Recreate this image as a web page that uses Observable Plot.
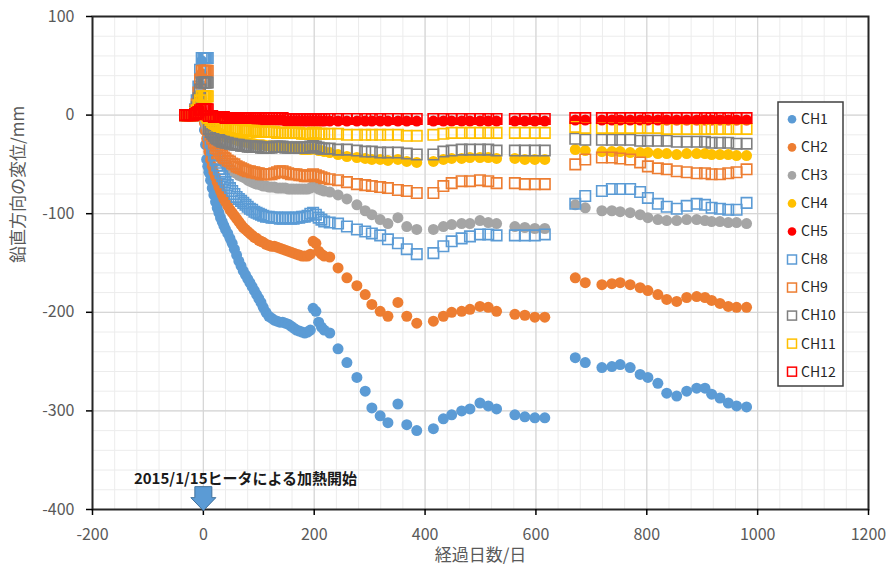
<!DOCTYPE html>
<html><head><meta charset="utf-8">
<script src="https://cdn.jsdelivr.net/npm/d3@7"></script>
<script src="https://cdn.jsdelivr.net/npm/@observablehq/plot@0.6"></script>
<style>
body{margin:0;background:#fff;}
#chart{width:890px;height:575px;}
</style></head><body><div id="chart"></div>
<script>
// ---- DATA ----
const days = [-33,-30,-27,-24,-21,-18,-15,-12,-9,-6,-3,0,
 2,4,6,8,10,
 13,16,19,22,25,28,31,34,37,40,
 44,48,52,56,60,64,68,72,76,80,
 84,88,92,96,100,104,
 108,113,118,123,128,133,138,143,148,153,158,163,168,173,178,183,188,193,198,203,208,213,218,
 228,243,259,277,292,304,319,333,351,367,385,
 415,433,448,466,481,499,514,529,
 562,580,598,616,
 671,689,719,737,752,770,788,802,820,836,854,872,890,905,917,932,947,962,980];

const ch1 = [0,0,0,0,0,0,0,0,10,40,55,0,
 -15,-30,-45,-52,-58,
 -66,-74,-81,-88,-94,-99,-104,-108,-112,-116,
 -120,-125,-130,-136,-142,-148,-153,-158,-162,-166,
 -170,-174,-178,-182,-186,-190,
 -195,-200,-204,-206,-208,-209,-210,-210,-211,-212,-214,-216,-218,-219,-220,-221,-220,-218,-196,-199,-210,-215,-218,
 -221,-237,-251,-266,-280,-297,-305,-312,-293,-314,-320,
 -318,-308,-304,-300,-298,-292,-295,-298,
 -304,-306,-307,-307,
 -246,-251,-256,-255,-253,-256,-263,-266,-272,-282,-285,-280,-277,-277,-283,-287,-292,-295,-296];

const ch2 = [0,0,0,0,0,0,0,0,8,30,42,0,
 -8,-16,-24,-31,-37,
 -45,-52,-58,-63,-68,-73,-77,-81,-85,-88,
 -92,-96,-99,-102,-105,-108,-111,-114,-116,-118,
 -120,-122,-124,-125,-127,-128,
 -129,-131,-132,-133,-133,-134,-135,-136,-137,-138,-139,-140,-141,-142,-143,-143,-143,-141,-128,-130,-138,-141,-143,
 -144,-155,-165,-173,-182,-192,-199,-204,-190,-204,-211,
 -209,-204,-200,-199,-197,-194,-195,-199,
 -202,-203,-205,-205,
 -165,-170,-172,-171,-170,-172,-175,-178,-182,-187,-189,-185,-184,-185,-188,-191,-194,-195,-195];

const ch3 = [0,0,0,0,0,0,0,0,6,22,30,0,
 -4,-8,-12,-16,-20,
 -24,-28,-32,-35,-38,-41,-44,-46,-48,-50,
 -52,-54,-56,-58,-59,-61,-62,-63,-64,-66,
 -67,-68,-69,-70,-70,-71,
 -72,-72,-73,-73,-73,-74,-74,-74,-74,-75,-75,-75,-75,-75,-75,-75,-75,-74,-72,-73,-75,-76,-77,
 -78,-81,-85,-91,-97,-101,-106,-110,-104,-113,-116,
 -116,-113,-111,-110,-110,-107,-109,-110,
 -113,-114,-115,-115,
 -91,-94,-97,-97,-98,-99,-101,-104,-106,-107,-107,-106,-106,-107,-108,-108,-109,-109,-110];

const ch4 = [0,0,0,0,0,0,0,0,4,12,17,0,
 -2,-4,-6,-8,-10,
 -12,-14,-15,-16,-17,-18,-19,-20,-21,-22,
 -22,-23,-24,-24,-25,-26,-26,-27,-27,-28,
 -28,-29,-29,-30,-30,-30,
 -30,-31,-31,-31,-32,-32,-32,-33,-33,-33,-33,-34,-34,-34,-35,-35,-35,-35,-34,-35,-36,-36,-37,
 -38,-40,-42,-43,-44,-45,-45,-46,-45,-47,-48,
 -47,-45,-44,-44,-43,-43,-43,-44,
 -44,-45,-45,-45,
 -35,-36,-37,-37,-37,-38,-38,-38,-39,-39,-40,-39,-39,-39,-40,-40,-40,-41,-41];

const ch5 = [0,0,0,0,0,0,0,0,1,3,5,0,
 0,-1,-1,-1,-2,
 -2,-2,-2,-3,-3,-3,-3,-3,-3,-4,
 -4,-4,-4,-4,-4,-4,-4,-5,-5,-5,
 -5,-5,-5,-5,-5,-5,
 -5,-5,-5,-5,-5,-5,-5,-5,-6,-6,-6,-6,-6,-6,-6,-6,-6,-6,-6,-6,-6,-6,-6,
 -6,-6,-6,-6,-6,-6,-6,-6,-6,-6,-6,
 -6,-6,-6,-6,-6,-6,-6,-6,
 -6,-6,-6,-6,
 -5,-5,-5,-5,-5,-5,-5,-5,-5,-5,-5,-5,-5,-5,-5,-5,-5,-5,-5];

const ch8 = [0,0,0,0,0,0,6,15,29,46,58,58,
 58,58,58,58,-20,
 -28,-35,-41,-46,-51,-55,-59,-62,-65,-68,
 -71,-74,-77,-80,-83,-85,-87,-89,-91,-93,
 -95,-96,-98,-99,-100,-101,
 -102,-103,-103,-104,-104,-104,-105,-105,-104,-104,-105,-105,-104,-104,-103,-103,-102,-100,-99,-101,-104,-106,-108,
 -109,-110,-113,-116,-118,-120,-122,-126,-130,-136,-141,
 -140,-133,-128,-125,-123,-121,-121,-122,
 -122,-122,-122,-121,
 -90,-82,-77,-75,-75,-75,-78,-84,-90,-93,-95,-92,-90,-91,-94,-95,-96,-96,-89];

const ch9 = [0,0,0,0,0,0,5,11,23,36,45,45,
 45,45,45,45,-15,
 -20,-24,-28,-31,-34,-37,-39,-41,-43,-44,
 -46,-47,-49,-50,-52,-53,-54,-55,-56,-57,
 -57,-58,-58,-59,-59,-60,
 -60,-60,-60,-60,-59,-58,-57,-57,-58,-59,-60,-60,-60,-61,-61,-62,-62,-61,-60,-61,-62,-63,-64,
 -65,-66,-68,-70,-71,-72,-73,-74,-76,-77,-79,
 -79,-72,-69,-67,-67,-66,-67,-69,
 -69,-70,-70,-70,
 -50,-45,-43,-43,-44,-45,-48,-52,-54,-55,-57,-58,-59,-59,-60,-60,-59,-58,-55];

const ch10 = [0,0,0,0,0,0,3,8,17,26,33,33,
 33,33,33,33,-14,
 -17,-19,-21,-23,-24,-25,-26,-27,-27,-28,
 -28,-29,-29,-30,-30,-30,-31,-31,-31,-32,
 -32,-32,-32,-32,-32,-33,
 -33,-33,-33,-33,-32,-32,-32,-32,-33,-33,-33,-33,-33,-33,-33,-33,-33,-32,-31,-32,-33,-34,-34,
 -34,-35,-35,-36,-37,-37,-38,-38,-38,-39,-40,
 -40,-37,-36,-35,-35,-35,-35,-36,
 -36,-36,-36,-36,
 -24,-25,-25,-25,-25,-25,-26,-26,-26,-26,-27,-27,-27,-27,-28,-28,-28,-29,-29];

const ch11 = [0,0,0,0,0,0,2,5,10,15,19,19,
 19,19,19,19,-3,
 -5,-7,-8,-9,-10,-11,-11,-12,-12,-13,
 -13,-13,-14,-14,-14,-15,-15,-15,-15,-16,
 -16,-16,-16,-17,-17,-17,
 -17,-17,-17,-17,-17,-18,-18,-18,-18,-18,-18,-18,-18,-18,-19,-19,-19,-19,-18,-18,-19,-19,-19,
 -19,-19,-20,-20,-20,-20,-20,-20,-20,-21,-21,
 -20,-19,-18,-18,-18,-18,-18,-18,
 -18,-18,-18,-18,
 -12,-13,-13,-13,-13,-13,-13,-13,-13,-14,-14,-14,-14,-14,-14,-14,-14,-14,-14];

const ch12 = [0,0,0,0,0,0,1,2,3,5,6,6,
 6,6,6,6,-1,
 -1,-1,-2,-2,-2,-2,-2,-2,-2,-3,
 -3,-3,-3,-3,-3,-3,-3,-3,-3,-3,
 -3,-3,-3,-3,-3,-3,
 -3,-3,-3,-3,-3,-3,-3,-3,-4,-4,-4,-4,-4,-4,-4,-4,-4,-4,-4,-4,-4,-4,-4,
 -4,-4,-4,-4,-4,-4,-4,-4,-4,-4,-4,
 -4,-4,-4,-4,-4,-4,-4,-4,
 -4,-4,-4,-4,
 -3,-3,-3,-3,-3,-3,-3,-3,-3,-3,-3,-3,-3,-3,-3,-3,-3,-3,-3];

const seriesNames  = ["CH1","CH2","CH3","CH4","CH5","CH8","CH9","CH10","CH11","CH12"];
const seriesColors = ["#5B9BD5","#ED7D31","#A5A5A5","#FFC000","#FF0000","#5B9BD5","#ED7D31","#7F7F7F","#FFC000","#FF0000"];
const seriesValues = [ch1,ch2,ch3,ch4,ch5,ch8,ch9,ch10,ch11,ch12];
const filledSeries = ["CH1","CH2","CH3","CH4","CH5"];

const xTicks = [-200,0,200,400,600,800,1000,1200];
const yTicks = [-400,-300,-200,-100,0,100];
const xMinor = d3.range(-200, 1201, 40);
const yMinor = d3.range(-400, 101, 20);

const xTitle = "経過日数/日";
const yTitle = "鉛直方向の変位/mm";
const noteText = "2015/1/15ヒータによる加熱開始";
const noteAt = [{day: 76, value: -369}];
const arrowAt = [{day: 0, value: -389}];

// ---- build table ----
const rows = [];
seriesNames.forEach((name, i) => {
  if (seriesValues[i].length !== days.length) console.error(name, seriesValues[i].length, days.length);
  days.forEach((d, j) => rows.push({name, day: d, value: seriesValues[i][j]}));
});
const dotRows = rows.filter(r => filledSeries.includes(r.name));
const sqRows = rows.filter(r => !filledSeries.includes(r.name));

const downArrow = {
  draw(ctx, size) {
    const u = Math.sqrt(size / Math.PI) / 12;
    ctx.moveTo(-8.5*u, -12*u);
    ctx.lineTo(8.5*u, -12*u);
    ctx.lineTo(8.5*u, -1*u);
    ctx.lineTo(12.5*u, -1*u);
    ctx.lineTo(0, 12*u);
    ctx.lineTo(-12.5*u, -1*u);
    ctx.lineTo(-8.5*u, -1*u);
    ctx.closePath();
  }
};

const font = "'Noto Sans CJK JP', 'Noto Sans', sans-serif";

const svg = Plot.plot({
  width: 890, height: 575,
  marginLeft: 92, marginRight: 22, marginTop: 16, marginBottom: 66,
  style: {fontFamily: font, fontSize: "16px", background: "white", overflow: "visible"},
  x: {domain: [-200, 1200], label: null},
  y: {domain: [-400, 100], label: null},
  color: {domain: seriesNames, range: seriesColors},
  marks: [
    Plot.gridX(xMinor, {stroke: "#ececec", strokeOpacity: 1}),
    Plot.gridY(yMinor, {stroke: "#ececec", strokeOpacity: 1}),
    Plot.gridX(xTicks, {stroke: "#d6d6d6", strokeOpacity: 1, strokeWidth: 1.2}),
    Plot.gridY(yTicks, {stroke: "#d6d6d6", strokeOpacity: 1, strokeWidth: 1.2}),
    Plot.dot(dotRows, {x: "day", y: "value", r: 5.5, fill: "name", stroke: null}),
    Plot.dot(sqRows, {x: "day", y: "value", symbol: "square", r: 5.9, stroke: "name", fill: "none", strokeWidth: 1.6}),
    Plot.frame({stroke: "#262626", strokeWidth: 2}),
    Plot.axisX(xTicks, {tickSize: 6, tickPadding: 13, stroke: "#000", strokeWidth: 1.5, fill: "#595959", fontSize: 16, tickFormat: d => String(d), label: null}),
    Plot.axisY(yTicks, {tickSize: 6, tickPadding: 12, stroke: "#000", strokeWidth: 1.5, fill: "#595959", fontSize: 16, tickFormat: d => String(d), label: null}),
    Plot.text([yTitle], {frameAnchor: "left", dx: -74, rotate: -90, fontSize: 17, fill: "#595959", text: d => d}),
    Plot.text([xTitle], {frameAnchor: "bottom", dy: 51, fontSize: 17, fill: "#595959", text: d => d}),
    Plot.text(noteAt, {x: "day", y: "value", text: () => noteText, fontSize: 15, fontWeight: "bold", fill: "#1a1a1a"}),
    Plot.dot(arrowAt, {x: "day", y: "value", symbol: downArrow, r: 12, fill: "#5B9BD5", stroke: "#41719C", strokeWidth: 1})
  ]
});
document.getElementById("chart").appendChild(svg);

// ---- legend box (inside plot area, upper right) ----
const g = d3.select(svg).append("g").attr("font-family", font).attr("text-anchor", "start");
g.append("rect").attr("x", 778).attr("y", 102).attr("width", 65).attr("height", 284)
  .attr("fill", "white").attr("stroke", "#404040").attr("stroke-width", 1.5);
seriesNames.forEach((name, i) => {
  const y = 119.3 + i * 28.04;
  if (filledSeries.includes(name)) {
    g.append("circle").attr("cx", 792).attr("cy", y).attr("r", 4.3).attr("fill", seriesColors[i]);
  } else {
    g.append("rect").attr("x", 787.5).attr("y", y - 4.5).attr("width", 9).attr("height", 9)
      .attr("fill", "none").attr("stroke", seriesColors[i]).attr("stroke-width", 1.5);
  }
  g.append("text").attr("x", 801).attr("y", y).attr("dy", "0.35em").attr("font-size", 14)
    .attr("text-anchor", "start").attr("fill", "#262626").text(name);
});
</script></body></html>
